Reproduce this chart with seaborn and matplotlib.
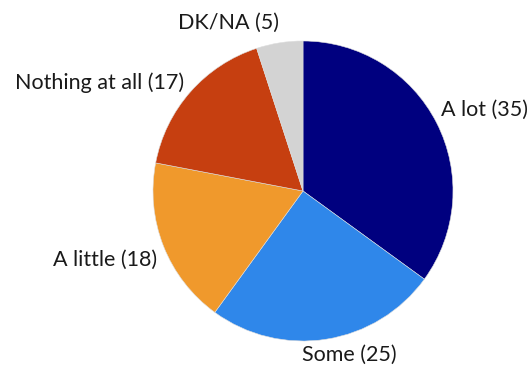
import matplotlib
matplotlib.use("Agg")
import matplotlib.pyplot as plt
import seaborn as sns

sns.set_theme(style="white")
plt.rcParams["font.family"] = ["Lato", "DejaVu Sans"]

categories = ["A lot", "Some", "A little", "Nothing at all", "DK/NA"]
values = [35, 25, 18, 17, 5]
colors = ["#00007F", "#2F87EA", "#F0992C", "#C63F10", "#D3D3D3"]

labels = [f"{c} ({v})" for c, v in zip(categories, values)]

fig = plt.figure(figsize=(5.32, 3.65), dpi=100)
# axes sized so the unit-radius pie sits at the chosen spot
ax = fig.add_axes([153 / 532, (365 - 341) / 365, 300 / 532, 300 / 365])

wedges, _ = ax.pie(
    values,
    colors=colors,
    startangle=90,
    counterclock=False,
    radius=1.0,
    wedgeprops=dict(linewidth=0.4, edgecolor="#DDDDDD"),
)

# label placement around the pie (data units, radius 1)
label_pos = [
    (0.92, 0.54, "left"),
    (0.31, -1.09, "center"),
    (-0.97, -0.46, "right"),
    (-0.79, 0.72, "right"),
    (-0.16, 1.12, "right"),
]
for text, (x, y, ha) in zip(labels, label_pos):
    ax.text(x, y, text, ha=ha, va="center", fontsize=15.5, color="#1a1a1a")

ax.set_xlim(-1, 1)
ax.set_ylim(-1, 1)
ax.set_aspect("equal")
ax.axis("off")

fig.savefig("out.png", dpi=100)
